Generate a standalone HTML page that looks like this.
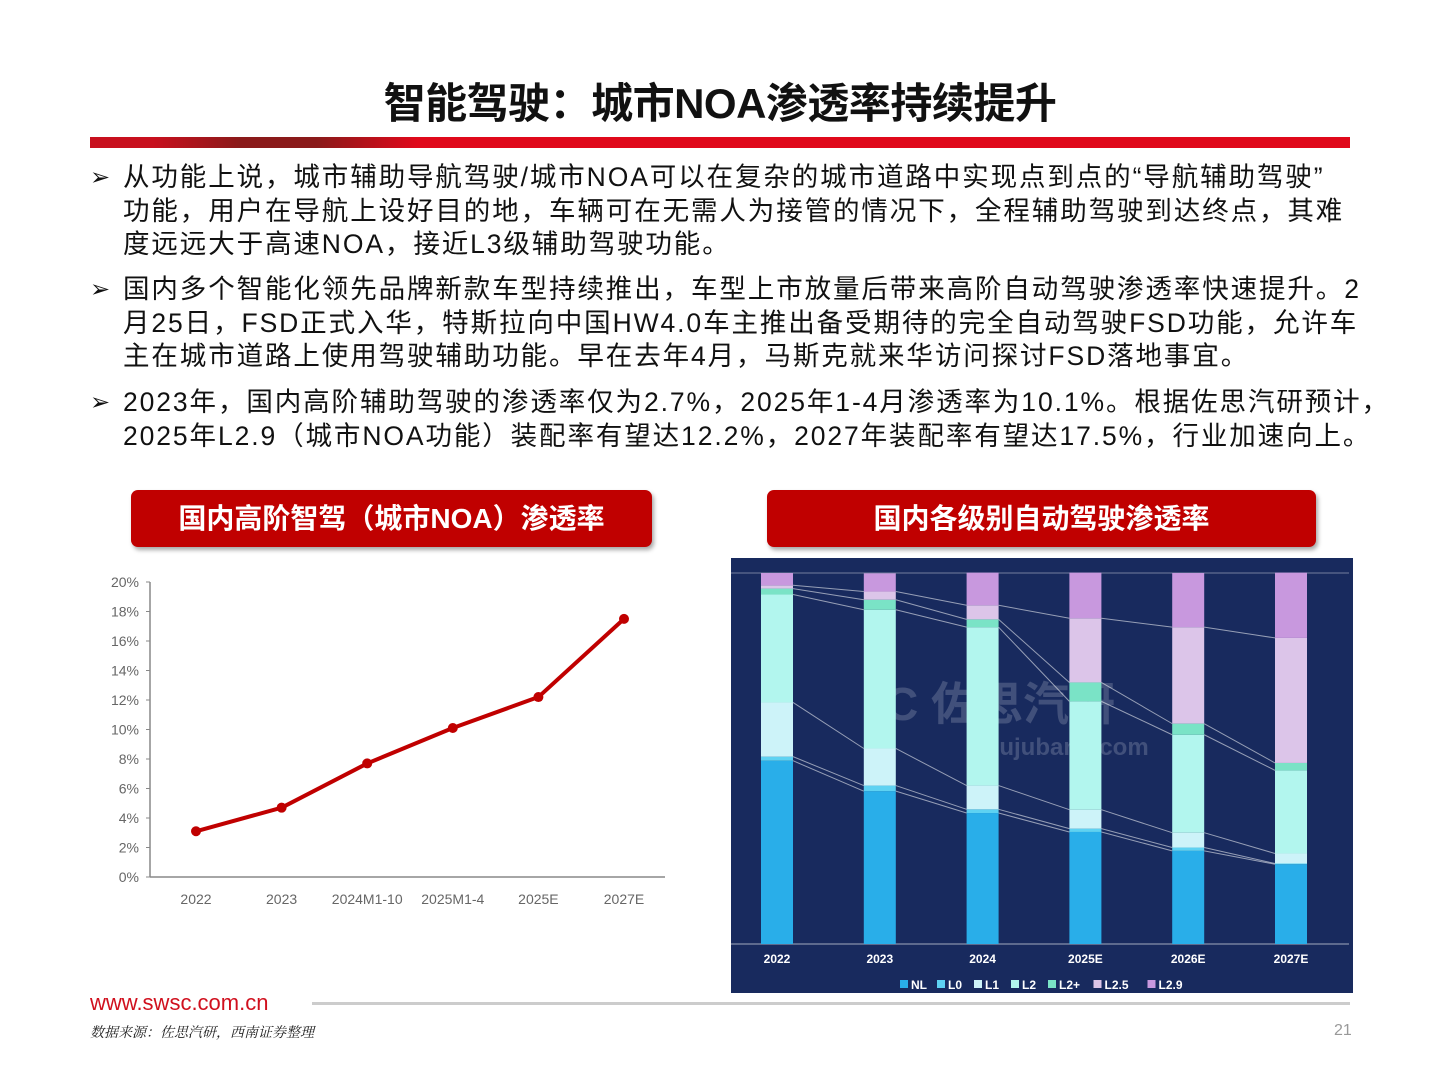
<!DOCTYPE html>
<html><head><meta charset="utf-8">
<style>
body{margin:0;background:#fff;}
#root{position:relative;width:1440px;height:1080px;overflow:hidden;font-family:"Liberation Sans","Noto Sans CJK SC",sans-serif;}
.title{position:absolute;left:0;width:1440px;top:70px;text-align:center;font-size:42px;font-weight:bold;color:#111;letter-spacing:-0.5px;}
.bar{position:absolute;left:90px;top:137px;width:1260px;height:11px;background:linear-gradient(90deg,#c8101e 0%,#c8101e 5%,#8a1a1a 12%,#8a1a1a 18%,#e0091b 26%,#e0091b 100%);}
.bul{position:absolute;left:90px;font-size:26.5px;color:#111;line-height:33.5px;}
.bul .m{position:absolute;left:0;top:0;font-size:24px;}
.bul .t{margin-left:33px;white-space:nowrap;letter-spacing:1.9px;}
.box{position:absolute;top:490px;height:57px;background:#c00000;border-radius:7px;box-shadow:2px 3px 4px rgba(0,0,0,0.35);color:#fff;font-weight:bold;font-size:28px;text-align:center;line-height:57px;}
</style></head><body>
<div id="root">
<div class="title">智能驾驶：城市NOA渗透率持续提升</div>
<div class="bar"></div>
<div class="bul" style="top:161px"><span class="m">➢</span><div class="t">从功能上说，城市辅助导航驾驶/城市NOA可以在复杂的城市道路中实现点到点的“导航辅助驾驶”<br>功能，用户在导航上设好目的地，车辆可在无需人为接管的情况下，全程辅助驾驶到达终点，其难<br>度远远大于高速NOA，接近L3级辅助驾驶功能。</div></div>
<div class="bul" style="top:273px"><span class="m">➢</span><div class="t">国内多个智能化领先品牌新款车型持续推出，车型上市放量后带来高阶自动驾驶渗透率快速提升。2<br>月25日，FSD正式入华，特斯拉向中国HW4.0车主推出备受期待的完全自动驾驶FSD功能，允许车<br>主在城市道路上使用驾驶辅助功能。早在去年4月，马斯克就来华访问探讨FSD落地事宜。</div></div>
<div class="bul" style="top:386px"><span class="m">➢</span><div class="t">2023年，国内高阶辅助驾驶的渗透率仅为2.7%，2025年1-4月渗透率为10.1%。根据佐思汽研预计，<br>2025年L2.9（城市NOA功能）装配率有望达12.2%，2027年装配率有望达17.5%，行业加速向上。</div></div>
<div class="box" style="left:131px;width:521px">国内高阶智驾（城市NOA）渗透率</div>
<div class="box" style="left:767px;width:549px">国内各级别自动驾驶渗透率</div>
<svg id="lc" style="position:absolute;left:0;top:0" width="1440" height="1080"></svg>
<div style="position:absolute;left:90px;top:990px;font-size:22px;color:#d0101e;font-family:'Liberation Sans',sans-serif">www.swsc.com.cn</div>
<div style="position:absolute;left:312px;top:1002px;width:1038px;height:3px;background:#ccc"></div>
<div style="position:absolute;left:90px;top:1022px;font-size:14px;font-style:italic;color:#222;font-family:'Liberation Serif','Noto Serif CJK SC',serif">数据来源：佐思汽研，西南证券整理</div>
<div style="position:absolute;left:1334px;top:1022px;font-size:16px;color:#999">21</div>
</div>
<script>
const lineCats=["2022","2023","2024M1-10","2025M1-4","2025E","2027E"];
const lineVals=[3.1,4.7,7.7,10.1,12.2,17.5];
const yTicks=[0,2,4,6,8,10,12,14,16,18,20];
const barCats=["2022","2023","2024","2025E","2026E","2027E"];
const seriesNames=["NL","L0","L1","L2","L2+","L2.5","L2.9"];
const sNL=[49.4,41.2,35.3,30.2,25.1,21.5];
const sL0=[1.1,1.5,1.0,0.9,0.9,0.2];
const sL1=[14.6,10.0,6.4,5.1,4.0,2.7];
const sL2=[29.1,37.4,42.7,29.2,26.4,22.4];
const sL2p=[1.6,2.7,2.1,5.1,3.0,2.0];
const sL25=[0.9,2.2,3.8,17.3,26.0,33.7];
const sL29=[3.3,4.9,8.8,12.3,14.6,17.6];
const NS="http://www.w3.org/2000/svg";
const svg=document.getElementById('lc');
function mk(tag,attrs,parent){const e=document.createElementNS(NS,tag);for(const k in attrs)e.setAttribute(k,attrs[k]);(parent||svg).appendChild(e);return e;}
const lx=i=>196+i*85.6, ly=v=>877-v*14.75;
let g=mk('g',{});


mk('line',{x1:150,y1:582,x2:150,y2:877,stroke:'#888','stroke-width':1.5},g);
mk('line',{x1:150,y1:877,x2:665,y2:877,stroke:'#888','stroke-width':1.5},g);
yTicks.forEach(t=>{
 mk('line',{x1:146,y1:ly(t),x2:150,y2:ly(t),stroke:'#888'},g);
 const tx=mk('text',{x:139,y:ly(t)+5,'text-anchor':'end','font-size':14,fill:'#666'},g);
 tx.textContent=t+'%';
 
 
});
lineCats.forEach((c,i)=>{
 const tx=mk('text',{x:lx(i),y:904,'text-anchor':'middle','font-size':14,fill:'#666'},g);
 tx.textContent=c;
 
 
});
const pl=mk('polyline',{points:lineVals.map((v,i)=>lx(i)+','+ly(v)).join(' '),fill:'none',stroke:'#c00000','stroke-width':4,'stroke-linejoin':'round'});


lineVals.forEach((v,i)=>{const c=mk('circle',{cx:lx(i),cy:ly(v),r:5,fill:'#c00000'});
 
 });
const panel=mk('rect',{x:731,y:558,width:622,height:435,fill:'#182a5e'});


const wm=mk('text',{x:1000,y:720,'text-anchor':'middle','font-size':46,'font-weight':'bold',fill:'rgba(255,255,255,0.18)'});
wm.textContent='C 佐思汽研';


const wm2=mk('text',{x:1060,y:755,'text-anchor':'middle','font-size':24,'font-weight':'bold',fill:'rgba(255,255,255,0.18)'});
wm2.textContent='shujubang.com';


const series=[sNL,sL0,sL1,sL2,sL2p,sL25,sL29];
const colors=['#29aee9','#5ed2f2','#cdf3f9','#b2f6ee','#7ae3c6','#dcc5e9','#c898de'];
const bx=i=>777+i*102.8, by=v=>944-v*3.71, bw=32;
mk('line',{x1:731,y1:573,x2:1349,y2:573,stroke:'rgba(255,255,255,0.4)'});
mk('line',{x1:731,y1:944,x2:1349,y2:944,stroke:'rgba(255,255,255,0.6)'});
barCats.forEach((c,i)=>{
 let cum=0;
 series.forEach((s,k)=>{
  const r=mk('rect',{x:bx(i)-bw/2,y:by(cum+s[i]),width:bw,height:s[i]*3.71,fill:colors[k]});
  
  
  cum+=s[i];
 });
 const tx=mk('text',{x:bx(i),y:963,'text-anchor':'middle','font-size':12,'font-weight':'bold',fill:'#fff'});
 tx.textContent=c;
 
 
});
for(let k=0;k<6;k++){
 for(let i=0;i<5;i++){
  let a=0,b=0;for(let j=0;j<=k;j++){a+=series[j][i];b+=series[j][i+1];}
  mk('line',{x1:bx(i)+bw/2,y1:by(a),x2:bx(i+1)-bw/2,y2:by(b),stroke:'rgba(255,255,255,0.55)','stroke-width':1});
 }
}
let lxp=900;
seriesNames.forEach((n,k)=>{
 const r=mk('rect',{x:lxp,y:980,width:8,height:8,fill:colors[k]});
 
 
 const t=mk('text',{x:lxp+11,y:989,'font-size':12,'font-weight':'bold',fill:'#fff'});
 t.textContent=n;
 
 
 lxp+=20+n.length*8.5;
});
</script>
</body></html>
